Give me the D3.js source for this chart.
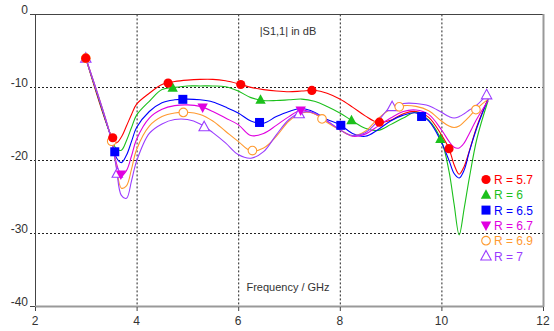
<!DOCTYPE html>
<html>
<head>
<meta charset="utf-8">
<script src="https://cdn.jsdelivr.net/npm/d3@7"></script>
<style>
  body { margin: 0; background: #fff; }
  svg { display: block; font-family: "Liberation Sans", Arial, sans-serif; }
</style>
</head>
<body>
<div id="chart"></div>
<script>
// frequency grid (GHz)
var freq = [3.0, 3.5, 3.6, 3.7, 3.8, 3.9, 4.0, 4.25, 4.5, 4.75, 5.0, 5.25, 5.5, 5.75, 6.0, 6.25, 6.5, 6.75,
  7.0, 7.25, 7.5, 7.75, 8.0, 8.25, 8.5, 8.75, 9.0, 9.25, 9.5, 9.75, 10.0, 10.15, 10.25, 10.35, 10.45, 10.55, 10.7, 10.92];

// |S1,1| in dB for each R
var r57 = [-6.0, -16.6, -17.6, -16.8, -15.3, -13.7, -12.3, -10.8, -9.6, -9.2, -9.0, -8.9, -8.9, -9.1, -9.5, -10.0, -10.3, -10.5,
  -10.6, -10.5, -10.4, -10.8, -11.6, -12.7, -13.9, -14.8, -14.5, -13.6, -13.3, -14.1, -16.5, -18.4, -20.6, -21.9, -20.8, -18.7, -15.3, -11.5];
var r6 = [-6.0, -16.8, -18.4, -18.6, -17.3, -15.5, -13.8, -11.9, -10.3, -10.0, -9.8, -9.8, -9.8, -9.9, -10.5, -11.4, -11.8, -11.8,
  -11.7, -11.6, -11.9, -12.6, -13.5, -14.6, -15.6, -15.9, -15.1, -14.2, -13.4, -14.5, -17.3, -21.5, -26.0, -30.2, -26.5, -22.4, -17.0, -11.8];
var r65 = [-6.0, -17.0, -19.6, -20.3, -19.3, -17.4, -15.5, -13.3, -12.1, -11.7, -11.6, -11.7, -12.0, -12.7, -13.5, -14.6, -14.9, -14.0,
  -13.3, -12.9, -13.4, -14.4, -15.1, -16.3, -16.7, -15.8, -14.6, -13.8, -13.5, -14.6, -17.5, -20.0, -21.8, -22.4, -21.3, -18.8, -15.5, -11.6];
var r67 = [-6.0, -17.0, -20.3, -22.1, -21.4, -19.4, -17.1, -14.2, -13.0, -12.5, -12.4, -12.6, -13.3, -14.2, -15.1, -16.6, -16.3, -15.2,
  -14.0, -13.1, -13.6, -14.6, -15.8, -16.7, -16.4, -15.3, -14.2, -13.3, -13.1, -13.7, -15.8, -17.4, -18.2, -18.3, -17.6, -16.3, -14.3, -11.8];
var r69 = [-6.0, -17.0, -20.8, -23.8, -23.5, -21.2, -18.5, -15.3, -14.0, -13.5, -13.4, -13.7, -14.6, -16.0, -17.4, -18.7, -18.3, -16.7,
  -14.6, -13.5, -13.6, -14.8, -15.8, -16.6, -16.0, -14.3, -13.0, -12.5, -12.6, -13.2, -14.6, -15.3, -15.5, -15.3, -14.7, -14.0, -12.9, -11.6];
var r7 = [-6.0, -17.0, -21.0, -24.8, -25.2, -22.8, -20.1, -16.3, -15.0, -14.4, -14.4, -15.0, -16.2, -17.6, -19.2, -19.7, -18.8, -16.5,
  -14.4, -13.4, -13.5, -14.6, -15.8, -16.6, -16.2, -14.6, -12.7, -12.2, -12.2, -12.5, -13.4, -14.0, -14.2, -14.0, -13.6, -13.1, -12.4, -10.8];

// where each curve carries a marker (GHz)
var marks57 = [3.0, 3.53, 4.62, 6.05, 7.45, 8.78, 10.15];
var marks6 = [4.71, 6.44, 8.23, 9.98];
var marks65 = [3.57, 4.91, 6.42, 8.02, 9.61];
var marks67 = [3.69, 5.30, 7.23];
var marks69 = [3.0, 3.51, 4.92, 6.28, 7.65, 9.17, 10.68];
var marks7 = [3.0, 3.62, 5.33, 7.2, 9.03, 10.89];

var seriesLabels = ["R = 5.7", "R = 6", "R = 6.5", "R = 6.7", "R = 6.9", "R = 7"];
var xTicks = [2, 4, 6, 8, 10, 12];
var yTicks = [0, -10, -20, -30, -40];

// styles
var colors = ["#ff0000", "#1cc01c", "#0000ff", "#e000e0", "#ff9a30", "#9a3cff"];
var shapes = ["circle", "up", "square", "down", "ocircle", "otri"];

var series = [r57, r6, r65, r67, r69, r7].map(function(vals, i) {
  return {
    label: seriesLabels[i],
    color: colors[i],
    shape: shapes[i],
    points: freq.map(function(f, j) { return { f: f, db: vals[j] }; }),
    marks: [marks57, marks6, marks65, marks67, marks69, marks7][i]
  };
});

var svgWidth = 554, svgHeight = 331;
var svg = d3.select("#chart").append("svg")
  .attr("width", svgWidth)
  .attr("height", svgHeight);

var x = d3.scaleLinear().domain([2, 12]).range([35, 543]);
var y = d3.scaleLinear().domain([-40, 0]).range([306.4, 14.4]);

// grid
var grid = svg.append("g");
grid.selectAll("line.v")
  .data(xTicks.slice(1, -1))
  .enter().append("line")
  .attr("x1", d => x(d) + 0.5).attr("x2", d => x(d) + 0.5)
  .attr("y1", y(0)).attr("y2", y(-40))
  .attr("stroke", "#222").attr("stroke-dasharray", "2,2");
grid.selectAll("line.h")
  .data(yTicks.slice(1, -1))
  .enter().append("line")
  .attr("x1", 30).attr("x2", x(12))
  .attr("y1", d => Math.round(y(d)) + 0.5).attr("y2", d => Math.round(y(d)) + 0.5)
  .attr("stroke", "#222").attr("stroke-dasharray", "2,2");

// frame
svg.append("line").attr("x1", 30).attr("x2", x(12)).attr("y1", 14.5).attr("y2", 14.5).attr("stroke", "#444");
svg.append("line").attr("x1", 35.5).attr("x2", 35.5).attr("y1", 14).attr("y2", 307).attr("stroke", "#444");
svg.append("line").attr("x1", 30).attr("x2", 35).attr("y1", 306.5).attr("y2", 306.5).attr("stroke", "#444");
svg.append("line").attr("x1", 35).attr("x2", 544).attr("y1", 306.5).attr("y2", 306.5).attr("stroke", "#999").attr("stroke-width", 2);
svg.append("line").attr("x1", 543.5).attr("x2", 543.5).attr("y1", 14).attr("y2", 307).attr("stroke", "#999").attr("stroke-width", 2);

// tick labels
svg.selectAll("text.yl")
  .data(yTicks)
  .enter().append("text")
  .attr("x", 28).attr("y", d => y(d))
  .attr("text-anchor", "end")
  .style("font-size", "12px").style("fill", "#333")
  .text(d => d);
svg.selectAll("line.xt")
  .data(xTicks)
  .enter().append("line")
  .attr("x1", d => x(d) + 0.5).attr("x2", d => x(d) + 0.5)
  .attr("y1", 307).attr("y2", 311)
  .attr("stroke", "#444");
svg.selectAll("text.xl")
  .data(xTicks)
  .enter().append("text")
  .attr("x", d => x(d)).attr("y", 325)
  .attr("text-anchor", "middle")
  .style("font-size", "12px").style("fill", "#333")
  .text(d => d);

// titles
svg.append("text")
  .attr("x", 288).attr("y", 35)
  .attr("text-anchor", "middle")
  .style("font-size", "11px").style("fill", "#333")
  .text("|S1,1| in dB");
svg.append("text")
  .attr("x", 288).attr("y", 291)
  .attr("text-anchor", "middle")
  .style("font-size", "11px").style("fill", "#333")
  .text("Frequency / GHz");

// curves
var line = d3.line()
  .x(d => x(d.f))
  .y(d => y(d.db))
  .curve(d3.curveCatmullRom.alpha(0.5));

svg.append("g").selectAll("path")
  .data(series)
  .enter().append("path")
  .attr("d", d => line(d.points))
  .attr("fill", "none")
  .attr("stroke", d => d.color)
  .attr("stroke-width", 1.1);

function valueAt(points, f) {
  var i = d3.bisector(p => p.f).left(points, f);
  if (i <= 0) return points[0].db;
  if (i >= points.length) return points[points.length - 1].db;
  var a = points[i - 1], b = points[i];
  return a.db + (b.db - a.db) * (f - a.f) / (b.f - a.f);
}

function drawMarker(g, shape, color) {
  if (shape === "circle") {
    g.append("circle").attr("r", 4.6).attr("fill", color);
  } else if (shape === "ocircle") {
    g.append("circle").attr("r", 4.3).attr("fill", "#fff").attr("stroke", color).attr("stroke-width", 1.1);
  } else if (shape === "square") {
    g.append("rect").attr("x", -4.5).attr("y", -4.5).attr("width", 9).attr("height", 9).attr("fill", color);
  } else if (shape === "up") {
    g.append("path").attr("d", "M0,-5.5L5.2,4L-5.2,4Z").attr("fill", color);
  } else if (shape === "down") {
    g.append("path").attr("d", "M0,5.5L5.2,-4L-5.2,-4Z").attr("fill", color);
  } else if (shape === "otri") {
    g.append("path").attr("d", "M0,-5.5L5.2,4L-5.2,4Z").attr("fill", "#fff").attr("stroke", color).attr("stroke-width", 1.1);
  }
}

// markers (drawn last series first so red sits on top)
series.slice().reverse().forEach(function(s) {
  s.marks.forEach(function(f) {
    var g = svg.append("g").attr("transform", "translate(" + x(f) + "," + y(valueAt(s.points, f)) + ")");
    drawMarker(g, s.shape, s.color);
  });
});

// legend
var legend = svg.append("g");
series.forEach(function(s, i) {
  var ly = 179.5 + i * 15.3;
  var g = legend.append("g").attr("transform", "translate(486," + ly + ")");
  drawMarker(g, s.shape, s.color);
  legend.append("text")
    .attr("x", 494).attr("y", ly + 4.5)
    .style("font-size", "12px").style("fill", s.color)
    .text(s.label);
});
</script>
</body>
</html>
